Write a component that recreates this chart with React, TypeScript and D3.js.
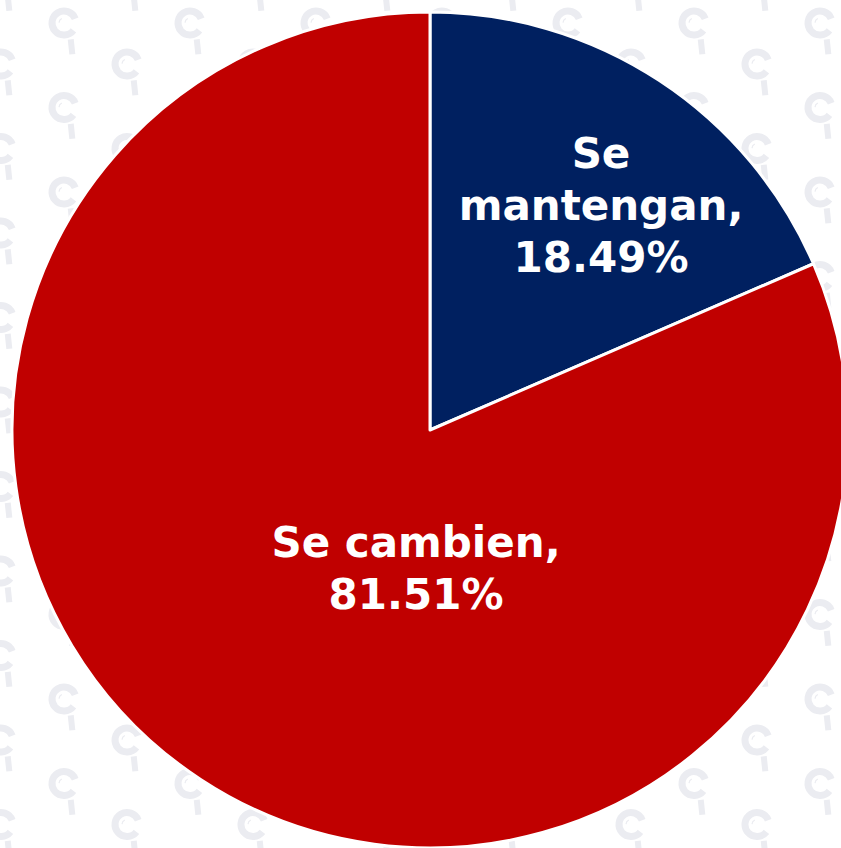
import React, { useEffect, useRef } from "react";
import * as d3 from "d3";

const categories = ["Se mantengan", "Se cambien"];
const values = [18.49, 81.51];
const colors = ["#002060", "#C00000"];
const labelLines = [
  ["Se", "mantengan,", "18.49%"],
  ["Se cambien,", "81.51%"],
];

const W = 841;
const H = 848;

export default function App() {
  const ref = useRef<SVGSVGElement>(null);

  useEffect(() => {
    document.body.style.margin = "0";
    const svg = d3.select(ref.current);
    svg.selectAll("*").remove();

    svg.append("rect").attr("width", W).attr("height", H).attr("fill", "#ffffff");

    // watermark pattern
    const wm = svg.append("g").attr("fill", "none").attr("stroke", "#ebecf1");
    const deg = Math.PI / 180;
    const arcC = d3.arc()({
      innerRadius: 12,
      outerRadius: 12,
      startAngle: 134 * deg,
      endAngle: (75 + 360) * deg,
    } as any) as string;
    const arcIn = d3.arc()({
      innerRadius: 5,
      outerRadius: 5,
      startAngle: -80 * deg,
      endAngle: -20 * deg,
    } as any) as string;
    for (let i = -1; i <= 13; i++) {
      const cx = 64 + 63 * i;
      const base = i % 2 === 0 ? 23 : 64;
      for (let k = -1; k <= 11; k++) {
        const cy = base + 84.5 * k;
        const g = wm.append("g").attr("transform", `translate(${cx},${cy}) rotate(-6)`);
        g.append("path").attr("d", arcC).attr("stroke-width", 7);
        g.append("path").attr("d", arcIn).attr("stroke-width", 1.2);
        g.append("line")
          .attr("x1", 5).attr("y1", 17)
          .attr("x2", 5).attr("y2", 32)
          .attr("stroke-width", 6);
      }
    }

    const cx = 430, cy = 430, R = 418;
    const pie = d3.pie<number>().sort(null).value((d) => d);
    const arcs = pie(values);
    const arc = d3.arc<d3.PieArcDatum<number>>().innerRadius(0).outerRadius(R);

    const g = svg.append("g").attr("transform", `translate(${cx},${cy})`);
    g.selectAll("path.slice")
      .data(arcs)
      .enter()
      .append("path")
      .attr("class", "slice")
      .attr("d", arc as any)
      .attr("fill", (_, i) => colors[i])
      .attr("stroke", "#ffffff")
      .attr("stroke-width", 3)
      .attr("stroke-linejoin", "round");

    // labels
    const labelPos = [
      { x: 171, y: -262 },
      { x: -14, y: 127 },
    ];
    const lh = 52;
    arcs.forEach((a, i) => {
      const lines = labelLines[i];
      const t = g
        .append("text")
        .attr("text-anchor", "middle")
        .attr("fill", "#ffffff")
        .attr("font-family", "Verdana, 'DejaVu Sans', sans-serif")
        .attr("font-weight", "bold")
        .attr("font-size", 42)
        .attr("aria-label", categories[i]);
      lines.forEach((ln, j) => {
        t.append("tspan")
          .attr("x", labelPos[i].x)
          .attr("y", labelPos[i].y + j * lh)
          .text(ln);
      });
    });
  }, []);

  return (
    <div style={{ position: "absolute", left: 0, top: 0 }}>
      <svg ref={ref} width={W} height={H} style={{ display: "block" }} />
    </div>
  );
}
